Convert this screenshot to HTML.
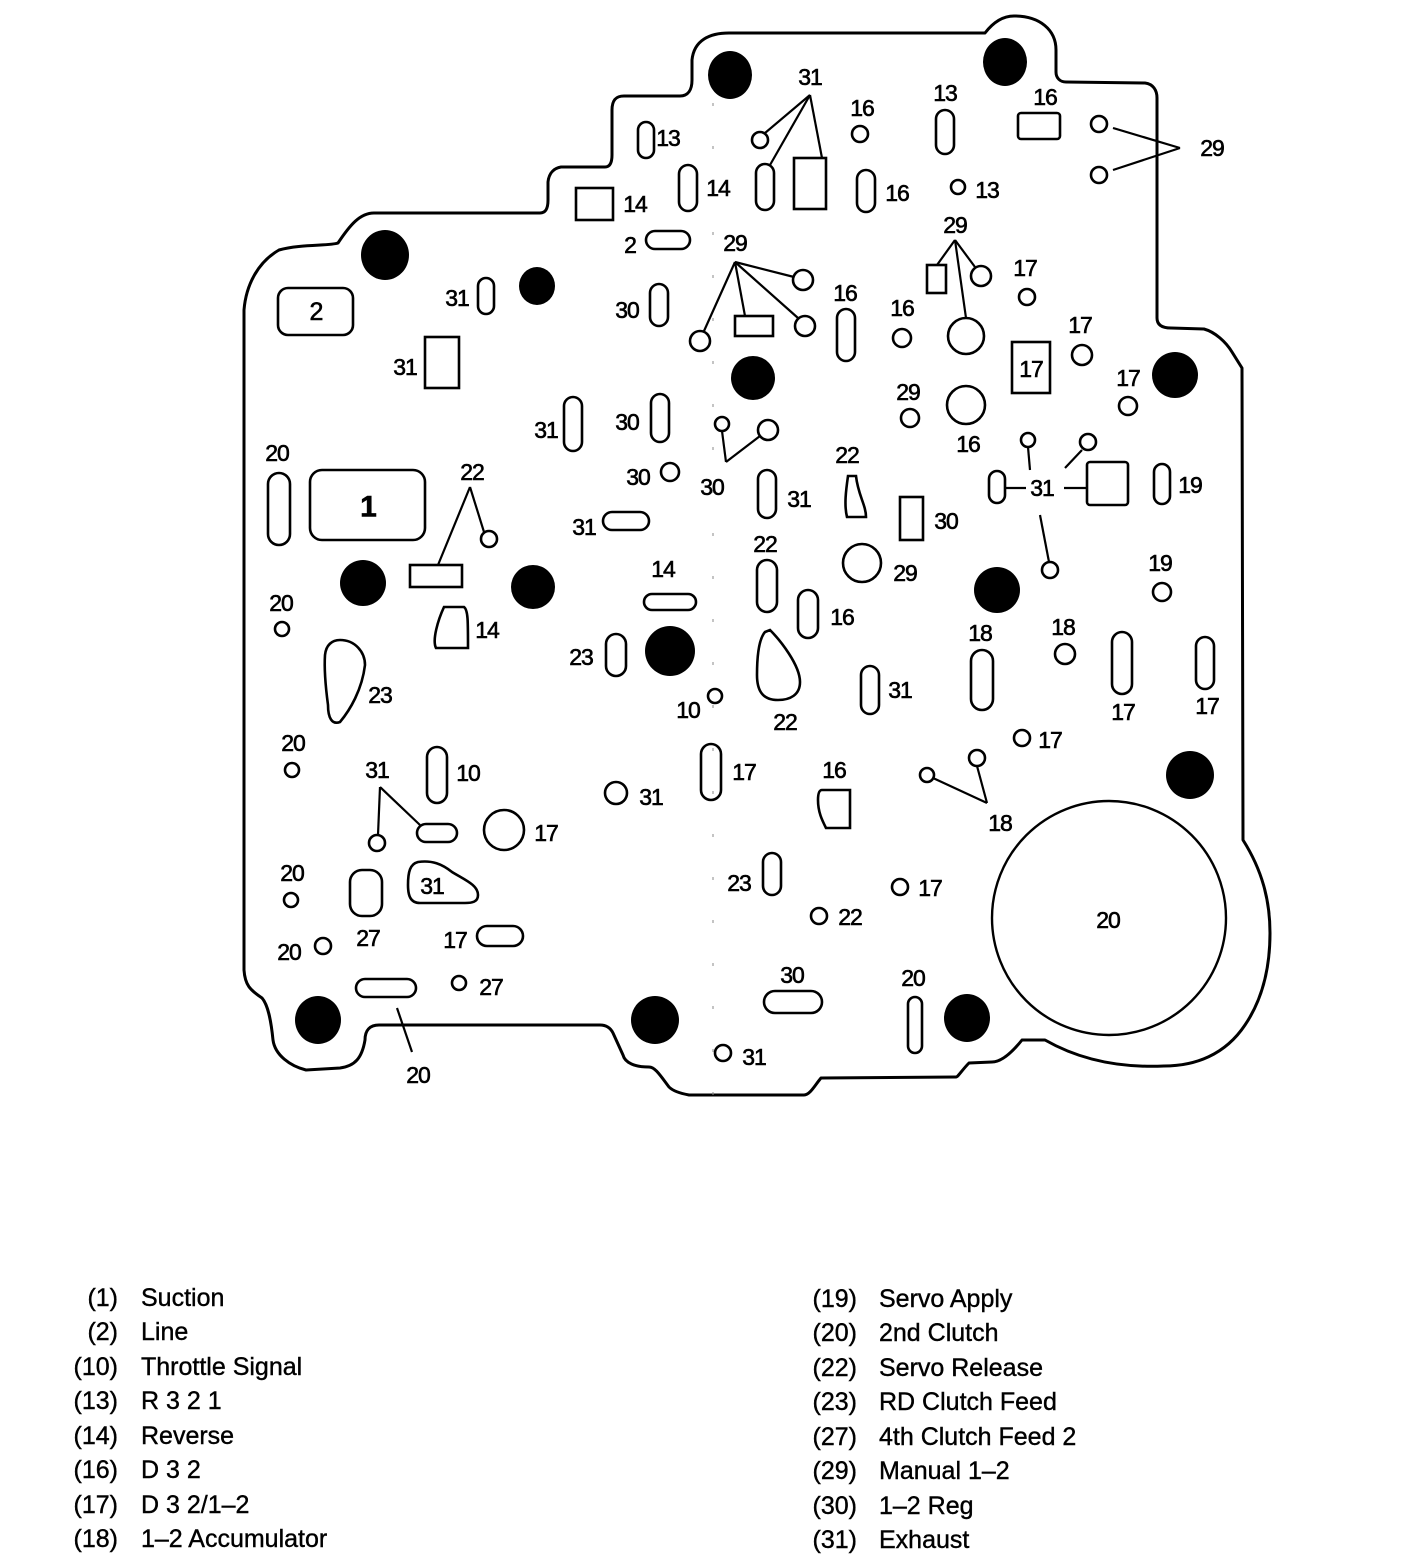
<!DOCTYPE html>
<html><head><meta charset="utf-8"><style>
html,body{margin:0;padding:0;background:#fff}
svg{display:block}
text{font-family:"Liberation Sans",sans-serif;fill:#000}
.l{font-size:23px;letter-spacing:-1px;stroke:#000;stroke-width:0.6}
.g{font-size:25px;stroke:#000;stroke-width:0.4}
</style></head><body>
<svg width="1408" height="1566" viewBox="0 0 1408 1566" xmlns="http://www.w3.org/2000/svg">
<g fill="none" stroke="#000" stroke-width="3" stroke-linejoin="round">
<path d="M729,33 L985,33 C995,20 1005,16 1014,16 C1040,16 1056,30 1056,50 L1056,72 C1056,78 1060,82 1066,82 L1145,83 C1153,84 1157,90 1157,98 L1157,318 C1157,325 1162,328 1171,328 L1204,329 C1215,332 1226,342 1232,352 L1242,368 L1243,840 C1262,870 1270,900 1270,933 C1270,970 1262,1000 1245,1025 C1225,1055 1195,1066 1164,1066 C1120,1068 1080,1060 1045,1040 L1022,1040 C1010,1055 1000,1062 992,1062 L969,1063 C962,1070 958,1077 956,1077 L821,1078 C815,1085 810,1095 804,1095 L689,1095 C678,1093 672,1090 669,1087 C660,1075 655,1067 649,1067 C635,1067 625,1063 623,1055 L613,1033 C610,1027 605,1025 600,1025 L379,1025 C370,1025 365,1030 365,1040 C362,1058 355,1066 340,1068 L306,1070 C290,1066 275,1055 273,1040 C271,1020 268,1005 262,998 C250,990 245,985 244,970 L244,310 C246,285 258,262 279,250 C300,244 330,246 338,243 C350,225 360,213 374,213 L540,213 C546,213 548,208 548,200 L548,182 C549,172 555,168 561,167 L605,167 C610,167 612,162 612,155 L612,110 C612,100 616,96 624,96 L680,96 C688,96 692,90 692,80 L692,60 C694,40 710,33 729,33 Z"/>
<line x1="713" y1="60" x2="713" y2="1100" stroke-width="1" stroke-dasharray="3,40" stroke="#888"/>
<circle cx="1109" cy="918" r="117" stroke-width="2.4"/>
</g>
<g fill="#000">
<ellipse cx="730" cy="75" rx="22" ry="24"/><ellipse cx="1005" cy="62" rx="22" ry="24"/>
<ellipse cx="385" cy="255" rx="24" ry="25"/><ellipse cx="537" cy="286" rx="18" ry="19"/>
<ellipse cx="753" cy="378" rx="22" ry="22"/><ellipse cx="1175" cy="375" rx="23" ry="23"/>
<ellipse cx="363" cy="583" rx="23" ry="23"/><ellipse cx="533" cy="587" rx="22" ry="22"/>
<ellipse cx="670" cy="651" rx="25" ry="25"/><ellipse cx="997" cy="590" rx="23" ry="23"/>
<ellipse cx="1190" cy="775" rx="24" ry="24"/><ellipse cx="318" cy="1020" rx="23" ry="24"/>
<ellipse cx="655" cy="1020" rx="24" ry="24"/><ellipse cx="967" cy="1018" rx="23" ry="24"/>
</g>
<g fill="none" stroke="#000" stroke-width="2.6">
<rect x="638" y="122" width="16" height="36" rx="8"/>
<rect x="756" y="164" width="18" height="46" rx="9"/>
<rect x="794" y="158" width="32" height="51"/>
<rect x="936" y="110" width="18" height="44" rx="9"/>
<rect x="1018" y="113" width="42" height="26" rx="3"/>
<rect x="679" y="165" width="18" height="46" rx="9"/>
<rect x="576" y="188" width="37" height="32"/>
<rect x="857" y="170" width="18" height="42" rx="9"/>
<rect x="646" y="231" width="44" height="18" rx="9"/>
<rect x="735" y="316" width="38" height="20"/>
<rect x="927" y="265" width="19" height="28"/>
<rect x="837" y="309" width="18" height="52" rx="9"/>
<rect x="1012" y="342" width="38" height="51"/>
<rect x="989" y="471" width="16" height="32" rx="8"/>
<rect x="1087" y="462" width="41" height="43" rx="3"/>
<rect x="1154" y="464" width="16" height="40" rx="8"/>
<rect x="278" y="288" width="75" height="47" rx="10"/>
<rect x="478" y="278" width="16" height="36" rx="8"/>
<rect x="425" y="337" width="34" height="51"/>
<rect x="650" y="284" width="18" height="42" rx="9"/>
<rect x="564" y="397" width="18" height="54" rx="9"/>
<rect x="651" y="394" width="18" height="48" rx="9"/>
<rect x="758" y="470" width="18" height="48" rx="9"/>
<rect x="900" y="497" width="23" height="43"/>
<rect x="268" y="473" width="22" height="72" rx="11"/>
<rect x="310" y="470" width="115" height="70" rx="12"/>
<rect x="410" y="565" width="52" height="22"/>
<rect x="603" y="512" width="46" height="18" rx="9"/>
<rect x="757" y="560" width="20" height="52" rx="10"/>
<rect x="644" y="594" width="52" height="16" rx="8"/>
<rect x="798" y="590" width="20" height="48" rx="10"/>
<rect x="606" y="634" width="20" height="42" rx="10"/>
<rect x="861" y="666" width="18" height="48" rx="9"/>
<rect x="971" y="650" width="22" height="60" rx="11"/>
<rect x="1112" y="632" width="20" height="62" rx="10"/>
<rect x="1196" y="637" width="18" height="52" rx="9"/>
<rect x="417" y="824" width="40" height="18" rx="9"/>
<rect x="427" y="747" width="20" height="56" rx="10"/>
<rect x="701" y="744" width="20" height="56" rx="10"/>
<rect x="350" y="870" width="32" height="46" rx="12"/>
<rect x="763" y="853" width="18" height="42" rx="9"/>
<rect x="477" y="926" width="46" height="20" rx="10"/>
<rect x="356" y="979" width="60" height="18" rx="9"/>
<rect x="764" y="991" width="58" height="22" rx="11"/>
<rect x="908" y="997" width="14" height="56" rx="7"/>
<circle cx="760" cy="140" r="8"/><circle cx="860" cy="134" r="8"/>
<circle cx="1099" cy="124" r="8"/><circle cx="1099" cy="175" r="8"/>
<circle cx="958" cy="187" r="7"/>
<circle cx="803" cy="280" r="10"/><circle cx="700" cy="341" r="10"/><circle cx="805" cy="326" r="10"/>
<circle cx="981" cy="276" r="10"/><circle cx="966" cy="336" r="18"/>
<circle cx="1027" cy="297" r="8"/><circle cx="902" cy="338" r="9"/>
<circle cx="1082" cy="355" r="10"/><circle cx="1128" cy="406" r="9"/>
<circle cx="910" cy="418" r="9"/><circle cx="966" cy="405" r="19"/>
<circle cx="1028" cy="440" r="7"/><circle cx="1088" cy="442" r="8"/>
<circle cx="1050" cy="570" r="8"/><circle cx="1162" cy="592" r="9"/>
<circle cx="722" cy="424" r="7"/><circle cx="768" cy="430" r="10"/>
<circle cx="670" cy="472" r="9"/><circle cx="489" cy="539" r="8"/>
<circle cx="862" cy="563" r="19"/><circle cx="282" cy="629" r="7"/>
<circle cx="715" cy="696" r="7"/><circle cx="1065" cy="654" r="10"/>
<circle cx="292" cy="770" r="7"/><circle cx="377" cy="843" r="8"/>
<circle cx="504" cy="830" r="20"/><circle cx="616" cy="793" r="11"/>
<circle cx="1022" cy="738" r="8"/><circle cx="927" cy="775" r="7"/><circle cx="977" cy="758" r="8"/>
<circle cx="291" cy="900" r="7"/><circle cx="900" cy="887" r="8"/><circle cx="819" cy="916" r="8"/>
<circle cx="323" cy="946" r="8"/><circle cx="459" cy="983" r="7"/><circle cx="723" cy="1053" r="8"/>
<path d="M848,476 L856,476 C858,495 866,505 866,517 L847,517 C844,505 846,490 848,476 Z"/>
<path d="M444,607 L464,607 C468,610 468,620 468,648 L436,648 C432,640 438,620 444,607 Z"/>
<path d="M340,640 C355,640 365,652 365,665 C362,690 350,710 340,722 C332,725 328,718 328,705 C326,690 324,670 325,655 C326,645 332,640 340,640 Z"/>
<path d="M770,630 C780,640 800,665 800,682 C800,695 790,700 778,700 C762,700 757,690 757,675 C757,660 758,640 765,632 Z"/>
<path d="M822,790 L850,790 L850,828 L826,828 C822,820 818,812 818,800 C818,794 819,790 822,790 Z"/>
<path d="M418,862 C432,860 442,864 452,872 C465,880 478,885 478,895 C478,902 472,903 465,903 L420,903 C410,903 408,895 408,885 C408,872 410,864 418,862 Z"/>
</g>
<g stroke="#000" stroke-width="2.2" fill="none">
<line x1="810" y1="95" x2="765" y2="133"/><line x1="810" y1="95" x2="770" y2="165"/><line x1="810" y1="95" x2="822" y2="158"/>
<line x1="1113" y1="128" x2="1180" y2="148"/><line x1="1113" y1="170" x2="1180" y2="148"/>
<line x1="735" y1="262" x2="794" y2="277"/><line x1="735" y1="262" x2="704" y2="331"/><line x1="735" y1="262" x2="745" y2="316"/><line x1="735" y1="262" x2="798" y2="318"/>
<line x1="955" y1="240" x2="937" y2="265"/><line x1="955" y1="240" x2="975" y2="267"/><line x1="955" y1="240" x2="966" y2="318"/>
<line x1="1028" y1="447" x2="1030" y2="470"/><line x1="1082" y1="450" x2="1065" y2="468"/>
<line x1="1005" y1="488" x2="1026" y2="488"/><line x1="1064" y1="488" x2="1087" y2="488"/>
<line x1="1040" y1="515" x2="1049" y2="562"/>
<line x1="726" y1="462" x2="722" y2="431"/><line x1="726" y1="462" x2="760" y2="436"/>
<line x1="470" y1="487" x2="438" y2="565"/><line x1="470" y1="487" x2="484" y2="532"/>
<line x1="380" y1="787" x2="378" y2="835"/><line x1="380" y1="787" x2="420" y2="825"/>
<line x1="987" y1="803" x2="933" y2="778"/><line x1="987" y1="803" x2="977" y2="766"/>
<line x1="397" y1="1008" x2="412" y2="1052"/>
</g>
<g class="l" text-anchor="middle" dominant-baseline="central">
<text x="810" y="77">31</text><text x="668" y="138">13</text><text x="862" y="108">16</text>
<text x="945" y="93">13</text><text x="1045" y="97">16</text><text x="1212" y="148">29</text>
<text x="718" y="188">14</text><text x="635" y="204">14</text><text x="897" y="193">16</text>
<text x="987" y="190">13</text><text x="630" y="245">2</text><text x="735" y="243">29</text>
<text x="955" y="225">29</text><text x="1025" y="268">17</text><text x="845" y="293">16</text>
<text x="902" y="308">16</text><text x="1080" y="325">17</text><text x="1031" y="369">17</text>
<text x="1128" y="378">17</text><text x="908" y="392">29</text><text x="968" y="444">16</text>
<text x="1042" y="488">31</text><text x="1190" y="485">19</text><text x="1160" y="563">19</text>
<text x="316" y="312" style="font-size:25px">2</text><text x="457" y="298">31</text><text x="405" y="367">31</text>
<text x="627" y="310">30</text><text x="546" y="430">31</text><text x="627" y="422">30</text>
<text x="712" y="487">30</text><text x="638" y="477">30</text><text x="799" y="499">31</text>
<text x="847" y="455">22</text><text x="946" y="521">30</text><text x="277" y="453">20</text>
<text x="368" y="507" style="font-size:30px;font-weight:bold">1</text><text x="472" y="472">22</text>
<text x="584" y="527">31</text><text x="765" y="544">22</text><text x="905" y="573">29</text>
<text x="663" y="569">14</text><text x="842" y="617">16</text><text x="281" y="603">20</text>
<text x="487" y="630">14</text><text x="380" y="695">23</text><text x="581" y="657">23</text>
<text x="785" y="722">22</text><text x="688" y="710">10</text><text x="900" y="690">31</text>
<text x="980" y="633">18</text><text x="1063" y="627">18</text><text x="1123" y="712">17</text>
<text x="1207" y="706">17</text><text x="293" y="743">20</text><text x="377" y="770">31</text>
<text x="468" y="773">10</text><text x="546" y="833">17</text><text x="651" y="797">31</text>
<text x="744" y="772">17</text><text x="834" y="770">16</text><text x="1050" y="740">17</text>
<text x="1000" y="823">18</text><text x="292" y="873">20</text><text x="368" y="938">27</text>
<text x="432" y="886">31</text><text x="739" y="883">23</text><text x="930" y="888">17</text>
<text x="850" y="917">22</text><text x="289" y="952">20</text><text x="455" y="940">17</text>
<text x="491" y="987">27</text><text x="418" y="1075">20</text><text x="792" y="975">30</text>
<text x="913" y="978">20</text><text x="754" y="1057">31</text><text x="1108" y="920">20</text>
</g>
<g class="g" dominant-baseline="central">
<g text-anchor="end">
<text x="118" y="1298">(1)</text><text x="118" y="1332">(2)</text><text x="118" y="1367">(10)</text><text x="118" y="1401">(13)</text>
<text x="118" y="1436">(14)</text><text x="118" y="1470">(16)</text><text x="118" y="1505">(17)</text><text x="118" y="1539">(18)</text>
<text x="857" y="1299">(19)</text><text x="857" y="1333">(20)</text><text x="857" y="1368">(22)</text><text x="857" y="1402">(23)</text>
<text x="857" y="1437">(27)</text><text x="857" y="1471">(29)</text><text x="857" y="1506">(30)</text><text x="857" y="1540">(31)</text>
</g>
<text x="141" y="1298">Suction</text><text x="141" y="1332">Line</text><text x="141" y="1367">Throttle Signal</text><text x="141" y="1401">R 3 2 1</text>
<text x="141" y="1436">Reverse</text><text x="141" y="1470">D 3 2</text><text x="141" y="1505">D 3 2/1–2</text><text x="141" y="1539">1–2 Accumulator</text>
<text x="879" y="1299">Servo Apply</text><text x="879" y="1333">2nd Clutch</text><text x="879" y="1368">Servo Release</text><text x="879" y="1402">RD Clutch Feed</text>
<text x="879" y="1437">4th Clutch Feed 2</text><text x="879" y="1471">Manual 1–2</text><text x="879" y="1506">1–2 Reg</text><text x="879" y="1540">Exhaust</text>
</g>
</svg>
</body></html>
